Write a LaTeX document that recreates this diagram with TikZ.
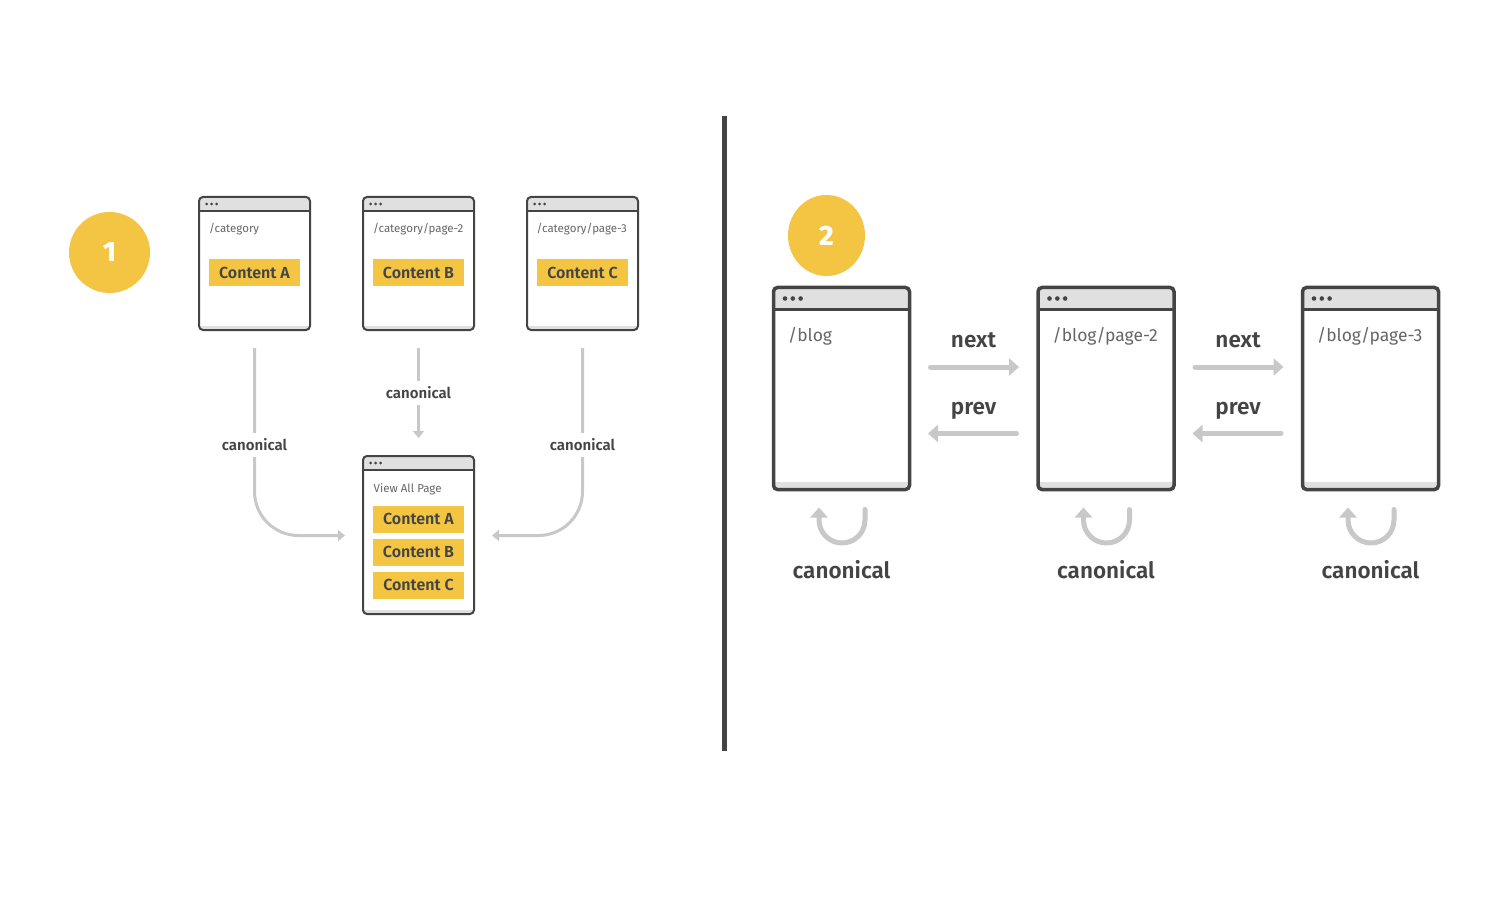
\documentclass[tikz,border=0pt]{standalone}
\usepackage{fontspec}
\setmainfont{Fira Sans}[BoldFont={Fira Sans SemiBold}]
\newfontfamily\badgefont{Fira Sans ExtraBold}
\usepackage{tikz}
\usetikzlibrary{arrows.meta,positioning,shapes.geometric}

\definecolor{inkgray}{HTML}{444444}
\definecolor{urlgray}{HTML}{666666}
\definecolor{headgray}{HTML}{E0E0E0}
\definecolor{linkgray}{HTML}{C8C8C8}
\definecolor{tagyellow}{HTML}{F4C542}

\tikzset{
    pagebox/.style={draw=inkgray,fill=white,rounded corners=4pt,inner sep=0pt,outer sep=0pt},
    contentbox/.style={fill=tagyellow,minimum width=91pt,minimum height=27pt,inner sep=0pt,text=inkgray,font=\fontsize{16}{16}\selectfont\bfseries},
    urltext/.style={anchor=base west,inner sep=0pt,text=urlgray},
    badge/.style={ellipse,fill=tagyellow,minimum height=81pt,inner sep=0pt,text=white,font=\fontsize{28}{30}\badgefont},
    thinlink/.style={draw=linkgray,line width=3pt,-{Triangle[length=7pt,width=11pt]},shorten <=18pt},
    thicklink/.style={draw=linkgray,line width=5pt,line cap=round,-{Triangle[length=10pt,width=17pt]}},
    smalllabel/.style={fill=white,inner sep=2pt,minimum height=24pt,text=inkgray,font=\fontsize{15}{16}\selectfont\bfseries},
    biglabel/.style={anchor=base,inner sep=0pt,text=inkgray,font=\fontsize{22.5}{24}\selectfont\bfseries}
}

% name, left, top, width, height, header height, dot radius, line width
\newcommand{\pagewin}[8]{
    \node [pagebox,anchor=north west,minimum width=#4pt,minimum height=#5pt,line width=#8pt,
        path picture={
            \fill [headgray,sharp corners] (path picture bounding box.north west) rectangle ([yshift=-#6pt]path picture bounding box.north east);
            \fill [inkgray,sharp corners] ([yshift=-#6pt-0.5*#8pt]path picture bounding box.north west) rectangle ([yshift=-#6pt+0.5*#8pt]path picture bounding box.north east);
            \fill [headgray,sharp corners] ([yshift=2.2*#8pt]path picture bounding box.south west) rectangle (path picture bounding box.south east);
            \foreach \i in {0,1,2} {
                \fill [inkgray] ([xshift=5*#7pt+\i*3.4*#7pt,yshift=-0.5*#6pt]path picture bounding box.north west) circle (#7pt);
            }
        }] (#1) at (#2,#3) {};
}

\begin{document}
\begin{tikzpicture}[x=1pt,y=1pt]
    \useasboundingbox [fill=white] (0,0) rectangle (1500,-920);

    \node [badge,minimum width=81pt] (one) at (109.5,-252.5) {1};
    \node [badge,minimum width=77pt] (two) at (826.5,-235.5) {2};
    \fill [inkgray] (722,-116) rectangle (727,-751);

    % left side
    \pagewin{catA}{199}{-197}{111}{133}{14}{1.5}{2}
    \pagewin{catB}{363}{-197}{111}{133}{14}{1.5}{2}
    \pagewin{catC}{527}{-197}{111}{133}{14}{1.5}{2}
    \pagewin{viewall}{363}{-456}{111}{158}{14}{1.5}{2}

    \node [urltext,font=\fontsize{11.5}{12}\selectfont] (urlA) at (209,-232.7) {/category};
    \node [urltext,font=\fontsize{11.5}{12}\selectfont] (urlB) at (373,-232.7) {/category/page-2};
    \node [urltext,font=\fontsize{11.5}{12}\selectfont] (urlC) at (536.5,-232.7) {/category/page-3};
    \node [urltext,font=\fontsize{11.5}{12}\selectfont] (urlall) at (373.5,-492) {View All Page};

    \node [contentbox] (boxA) at (254.5,-272.5) {Content A};
    \node [contentbox] (boxB) at (418.5,-272.5) {Content B};
    \node [contentbox] (boxC) at (582.5,-272.5) {Content C};
    \node [contentbox] (allA) at (418.5,-519) {Content A};
    \node [contentbox] (allB) at (418.5,-552) {Content B};
    \node [contentbox] (allC) at (418.5,-585) {Content C};

    \coordinate (inA) at ([xshift=-18pt]viewall.west |- 0,-535.5);
    \coordinate (inC) at ([xshift=18pt]viewall.east |- 0,-535.5);

    \draw [thinlink,rounded corners=44pt] (catA.south) |- (inA);
    \draw [thinlink,shorten >=18pt] (catB.south) -- (viewall.north);
    \draw [thinlink,rounded corners=44pt] (catC.south) |- (inC);
    \node [smalllabel] (canonA) at (254.5,-445) {canonical};
    \node [smalllabel] (canonB) at (418.5,-393) {canonical};
    \node [smalllabel] (canonC) at (582.5,-445) {canonical};

    % right side
    \pagewin{blogA}{773.5}{-287.5}{136}{202}{22}{2.3}{3.5}
    \pagewin{blogB}{1038}{-287.5}{136}{202}{22}{2.3}{3.5}
    \pagewin{blogC}{1302.5}{-287.5}{136}{202}{22}{2.3}{3.5}

    \node [urltext,font=\fontsize{17.5}{20}\selectfont] (urlD) at (788,-341.7) {/blog};
    \node [urltext,font=\fontsize{17.5}{20}\selectfont] (urlE) at (1052.5,-341.7) {/blog/page-2};
    \node [urltext,font=\fontsize{17.5}{20}\selectfont] (urlF) at (1317,-341.7) {/blog/page-3};

    \foreach \from/\to/\mid in {blogA/blogB/973.5,blogB/blogC/1238} {
        \coordinate (nextfrom) at ([xshift=21pt]\from.east |- 0,-367);
        \coordinate (nextto) at ([xshift=-19pt]\to.west |- 0,-367);
        \coordinate (prevfrom) at ([xshift=-21.5pt]\to.west |- 0,-433.5);
        \coordinate (prevto) at ([xshift=18.5pt]\from.east |- 0,-433.5);
        \draw [thicklink] (nextfrom) -- (nextto);
        \draw [thicklink] (prevfrom) -- (prevto);
        \node [biglabel] at (\mid,-347.5) {next};
        \node [biglabel] at (\mid,-414) {prev};
    }

    \foreach \pg in {blogA,blogB,blogC} {
        \coordinate (loopstart) at ([xshift=23.5pt,yshift=-20pt]\pg.south);
        \draw [thicklink] (loopstart) -- ++(0,-10.5) arc (0:-180:23) -- ++(0,12.5);
        \node [biglabel] (\pg-canon) at ([yshift=-88.5pt]\pg.south) {canonical};
    }
\end{tikzpicture}
\end{document}
